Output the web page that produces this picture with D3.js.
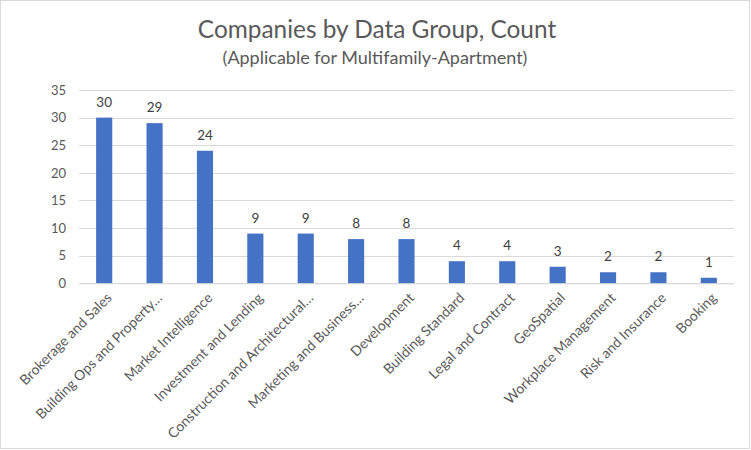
<!DOCTYPE html>
<html><head><meta charset="utf-8">
<script src="https://cdn.jsdelivr.net/npm/d3@7"></script>
<style>body{margin:0;background:#fff}svg{display:block}</style>
</head><body>
<script>
const categories = ["Brokerage and Sales","Building Ops and Property…","Market Intelligence","Investment and Lending","Construction and Architectural…","Marketing and Business…","Development","Building Standard","Legal and Contract","GeoSpatial","Workplace Management","Risk and Insurance","Booking"];
const counts = [30,29,24,9,9,8,8,4,4,3,2,2,1];
const yTicks = [0,5,10,15,20,25,30,35];
const title = "Companies by Data Group, Count";
const subtitle = "(Applicable for Multifamily-Apartment)";

const W = 751, H = 450;
const font = "Lato, 'Open Sans', sans-serif";
const svg = d3.select("body").append("svg").attr("width", W).attr("height", H);
svg.append("rect").attr("x",0.5).attr("y",0.5).attr("width",W-2).attr("height",H-2)
  .attr("fill","#fff").attr("stroke","#d9d9d9");

const x = d3.scaleBand().domain(categories).range([79, 734]).paddingInner(0.68).paddingOuter(0.34);
const y = d3.scaleLinear().domain([0,35]).range([283.3, 90]);

svg.append("text").attr("x", 377).attr("y", 38).attr("text-anchor","middle")
  .attr("font-family", font).attr("font-size", 24.4).attr("fill","#595959").text(title);
svg.append("text").attr("x", 375).attr("y", 64).attr("text-anchor","middle")
  .attr("font-family", font).attr("font-size", 18).attr("fill","#595959").text(subtitle);

// gridlines
svg.append("g").selectAll("line").data(yTicks).join("line")
  .attr("x1", 79).attr("x2", 734)
  .attr("y1", d => Math.round(y(d))+0.5).attr("y2", d => Math.round(y(d))+0.5)
  .attr("stroke", "#d9d9d9").attr("stroke-width", 1);

// y axis labels
const yAxis = d3.axisLeft(y).tickValues(yTicks).tickSize(0).tickPadding(0);
const gy = svg.append("g").attr("transform","translate(66,0)").call(yAxis);
gy.select(".domain").remove();
gy.selectAll("text").attr("font-family", font).attr("font-size", 13).attr("fill","#595959");

// bars
svg.append("g").selectAll("rect").data(counts).join("rect")
  .attr("x", (d,i) => x(categories[i])).attr("width", x.bandwidth())
  .attr("y", d => y(d)).attr("height", d => y(0) - y(d))
  .attr("fill", "#4472c4");

// value labels
svg.append("g").selectAll("text").data(counts).join("text")
  .attr("x", (d,i) => x(categories[i]) + x.bandwidth()/2)
  .attr("y", d => y(d) - 11).attr("text-anchor","middle")
  .attr("font-family", font).attr("font-size", 13.5).attr("fill","#404040")
  .text(d => d);

// x axis labels
const xAxis = d3.axisBottom(x).tickSize(0).tickPadding(0);
const gx = svg.append("g").attr("transform", `translate(0,${y(0)})`).call(xAxis);
gx.select(".domain").attr("stroke","#d9d9d9");
gx.selectAll("text")
  .attr("font-family", font).attr("font-size", 14).attr("fill","#595959")
  .attr("text-anchor","end")
  .attr("transform", "translate(5,12) rotate(-45)")
  .attr("y", 0).attr("x", 0).attr("dy","0.35em");
</script>
</body></html>
